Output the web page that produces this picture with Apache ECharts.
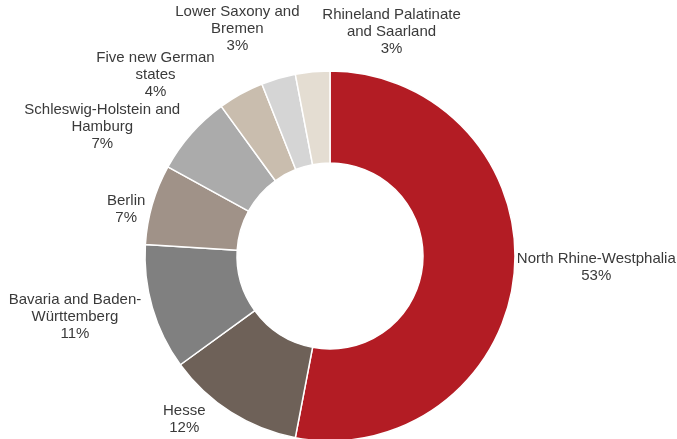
<!DOCTYPE html>
<html>
<head>
<meta charset="utf-8">
<script src="https://cdn.jsdelivr.net/npm/echarts@6/dist/echarts.min.js"></script>
<style>
    html, body {margin: 0; padding: 0; background: #fff;}
    #chart {width: 677px; height: 439px;}
</style>
</head>
<body>
<div id="chart"></div>
<script>
// regions, clockwise from 12 o'clock
var regions = [
    'North Rhine-Westphalia',
    'Hesse',
    'Bavaria and Baden-\nWürttemberg',
    'Berlin',
    'Schleswig-Holstein and\nHamburg',
    'Five new German\nstates',
    'Lower Saxony and\nBremen',
    'Rhineland Palatinate\nand Saarland'
];
var shares = [53, 12, 11, 7, 7, 4, 3, 3];
var colors = ['#b31c24', '#6e6158', '#808080', '#a09288', '#ababab', '#c9bdae', '#d5d5d5', '#e4ddd2'];

// hand nudges for the labels (px), like the manual moves in the original
var labelShift = [[-3, -8], [-32, -12], [-8, 0], [-2, 11], [-26, 14], [-54, 9], [-22, -19], [86, -9]];

var center = [330, 256];
var outerR = 185, innerR = 93;
var total = 0;
for (var k = 0; k < shares.length; k++) total += shares[k];

var chart = echarts.init(document.getElementById('chart'));
chart.setOption({
    animation: false,
    series: [{
        type: 'pie',
        center: center,
        radius: [innerR, outerR],
        startAngle: 90,
        clockwise: true,
        avoidLabelOverlap: false,
        itemStyle: {borderColor: '#fff', borderWidth: 1.5},
        label: {
            show: true,
            position: 'outside',
            formatter: function (p) {
                return p.name + '\n' + p.value + '%';
            },
            fontFamily: '"Liberation Sans", Arial, sans-serif',
            fontSize: 15,
            lineHeight: 17,
            color: '#3a3a3a'
        },
        labelLine: {show: false},
        labelLayout: function (p) {
            var i = p.dataIndex;
            var before = 0;
            for (var j = 0; j < i; j++) before += shares[j];
            var a = (before + shares[i] / 2) / total * 2 * Math.PI;
            var dx = Math.sin(a), dy = -Math.cos(a);
            var r = outerR + 6;
            var w = p.labelRect.width, h = p.labelRect.height;
            return {
                x: center[0] + dx * r + dx * w / 2 + labelShift[i][0],
                y: center[1] + dy * r + dy * h / 2 + labelShift[i][1],
                align: 'center',
                verticalAlign: 'middle'
            };
        },
        emphasis: {disabled: true},
        data: regions.map(function (n, i) {
            return {name: n, value: shares[i], itemStyle: {color: colors[i]}};
        })
    }]
});
</script>
</body>
</html>
